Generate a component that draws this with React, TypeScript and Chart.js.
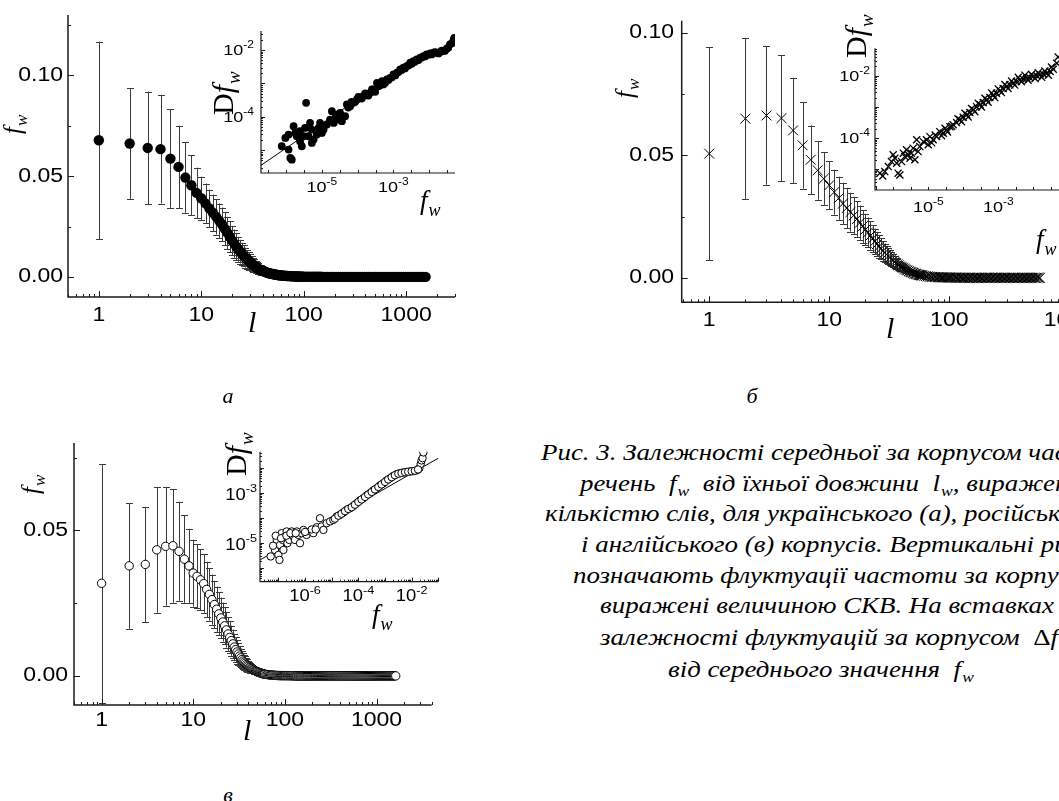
import { useEffect, useRef } from 'react';
import { Chart, registerables } from 'chart.js';

Chart.register(...registerables);

const SANS = '"Liberation Sans", Arial, sans-serif';
const SERIF = '"Liberation Serif", "Times New Roman", serif';

// ---------------- main panels: sentence length l vs mean frequency f_w (± SD) ----------------
const lengthsHead = [1, 2, 3, 4, 5, 6, 7, 8, 9, 10, 11, 12, 13, 14, 15, 16, 17, 18, 19, 20,
  21, 22, 23, 24, 25, 26, 27, 28, 29, 30, 31, 32, 33, 34, 35, 36, 37, 38, 39, 40,
  41, 42, 43, 44, 45, 46, 47, 48, 49, 50, 51, 52, 53, 54, 55, 56, 57, 58, 59, 60,
  62, 64, 66, 68, 70, 72, 74, 76, 78, 80, 82, 84, 86, 88, 90, 92, 94, 96, 98, 100];

// (a) Ukrainian
const meanA = [0.0678, 0.0662, 0.064, 0.0634, 0.0587, 0.0546, 0.0493, 0.0455, 0.0417, 0.039,
  0.0365, 0.034, 0.0318, 0.0298, 0.0278, 0.026, 0.0238, 0.0218, 0.0198, 0.018,
  0.0165, 0.015, 0.0137, 0.0125, 0.0114, 0.0104, 0.0095, 0.0086, 0.0079, 0.0072,
  0.0066, 0.006, 0.0055, 0.005, 0.0045, 0.0041, 0.0037, 0.0034, 0.0031, 0.0029,
  0.0027, 0.0025, 0.0023, 0.0021, 0.0019, 0.0018, 0.0017, 0.0016, 0.0015, 0.0014,
  0.0013, 0.0012, 0.0011, 0.00105, 0.001, 0.00094, 0.00088, 0.00082, 0.00076, 0.0007,
  0.00064, 0.00058, 0.00052, 0.00046, 0.0004, 0.00037, 0.00034, 0.00031, 0.00028, 0.00025,
  0.00023, 0.00021, 0.00019, 0.00017, 0.00015, 0.00014, 0.00013, 0.00012, 0.00011, 0.0001];
const errA = [0.049, 0.0275, 0.028, 0.027, 0.0244, 0.0204, 0.0175, 0.015, 0.0125, 0.0107,
  0.0098, 0.0093, 0.009, 0.0088, 0.0086, 0.0084, 0.0082, 0.008, 0.0077, 0.0073,
  0.007, 0.0066, 0.0062, 0.0059, 0.0055, 0.0052, 0.0049, 0.0046, 0.0043, 0.004,
  0.0037, 0.0035, 0.0032, 0.003, 0.0028, 0.0026, 0.0024, 0.0023, 0.0021, 0.002,
  0.0019, 0.0018, 0.0016, 0.0015, 0.0014, 0.0013, 0.0012, 0.0011, 0.00105, 0.001,
  0.00096, 0.00092, 0.00088, 0.00084, 0.0008, 0.00076, 0.00072, 0.00068, 0.00064, 0.0006,
  0.00055, 0.0005, 0.00045, 0.0004, 0.0003, 0.0003, 0.00025, 0.00025, 0.0002, 0.0002,
  0.0002, 0.00015, 0.00015, 0.00015, 0.0001, 0.0001, 0.0001, 0.0001, 0.0001, 0.0001];
const tailLenA = [105, 110, 116, 122, 128, 134, 141, 148, 155, 163, 171, 180, 189, 198, 208, 218, 229, 241,
  253, 265, 279, 293, 307, 322, 338, 355, 373, 392, 411, 432, 453, 476, 500, 525, 551, 579, 608, 638,
  670, 704, 739, 776, 815, 856, 898, 943, 990, 1040, 1090, 1145, 1200, 1260, 1325, 1390, 1460, 1550];
const tailMeanA = [0.00009, 0.00008, 0.00007, 0.00006, 0.00005, 0.00004, 0.00003, 0.00002, 0.00001, 0, 0, 0, 0, 0,
  0, 0, 0, 0, 0, 0, 0, 0, 0, 0, 0, 0, 0, 0, 0, 0, 0, 0, 0, 0, 0, 0, 0, 0, 0, 0, 0, 0, 0, 0, 0, 0, 0, 0,
  0, 0, 0, 0, 0, 0, 0, 0];

// (б) Russian
const meanB = [0.0507, 0.065, 0.0663, 0.0652, 0.0602, 0.0541, 0.0482, 0.0439, 0.0405, 0.0378,
  0.035, 0.0325, 0.0303, 0.0285, 0.0268, 0.0255, 0.024, 0.0225, 0.021, 0.0197,
  0.0185, 0.0172, 0.016, 0.0149, 0.0138, 0.0128, 0.0119, 0.011, 0.0102, 0.0095,
  0.0088, 0.0082, 0.0076, 0.007, 0.0065, 0.006, 0.0055, 0.0051, 0.0047, 0.0044,
  0.0041, 0.0038, 0.0035, 0.0032, 0.003, 0.0027, 0.0025, 0.0023, 0.0022, 0.002,
  0.0018, 0.0017, 0.0016, 0.0014, 0.0013, 0.0012, 0.0011, 0.00105, 0.001, 0.0009,
  0.0008, 0.0007, 0.0006, 0.0005, 0.0004, 0.00037, 0.00034, 0.0003, 0.00027, 0.00024,
  0.00022, 0.0002, 0.00018, 0.00016, 0.00015, 0.00014, 0.00013, 0.00012, 0.00011, 0.0001];
const errB = [0.0435, 0.033, 0.0283, 0.0257, 0.0215, 0.0177, 0.014, 0.012, 0.0107, 0.0097,
  0.0092, 0.0088, 0.0085, 0.0082, 0.0079, 0.0076, 0.0073, 0.007, 0.0067, 0.0064,
  0.0061, 0.0058, 0.0055, 0.0052, 0.0049, 0.0046, 0.0043, 0.004, 0.0037, 0.0035,
  0.0032, 0.003, 0.0028, 0.0026, 0.0024, 0.0022, 0.0021, 0.0019, 0.0018, 0.0016,
  0.0015, 0.0014, 0.0013, 0.0012, 0.0011, 0.001, 0.00095, 0.0009, 0.00085, 0.0008,
  0.00075, 0.0007, 0.00065, 0.0006, 0.0006, 0.00055, 0.0005, 0.0005, 0.00045, 0.0004,
  0.0004, 0.00035, 0.0003, 0.0003, 0.00025, 0.00025, 0.0002, 0.0002, 0.0002, 0.00015,
  0.00015, 0.00015, 0.0001, 0.0001, 0.0001, 0.0001, 0.0001, 0.0001, 0.0001, 0.0001];
const tailLenB = [102, 105, 107, 110, 113, 115, 118, 121, 124, 127, 130, 133, 136, 140, 143, 147, 150, 154,
  158, 162, 166, 170, 174, 178, 183, 187, 192, 197, 202, 207, 212, 217, 223, 228, 234, 240, 246, 252,
  258, 265, 271, 278, 285, 292, 299, 307, 314, 322, 330, 339, 347, 356, 365, 374, 383, 393, 403, 413,
  423, 434, 445, 456, 467, 479, 491, 503, 516, 529, 542, 556, 570];
const tailMeanB = [0.00009, 0.00009, 0.00008, 0.00008, 0.00007, 0.00007, 0.00006, 0.00005, 0.00004, 0.00003,
  0.00002, 0.00001, 0, 0, 0, 0, 0, 0, 0, 0, 0, 0, 0, 0, 0, 0, 0, 0, 0, 0, 0, 0, 0, 0, 0, 0, 0, 0, 0, 0,
  0, 0, 0, 0, 0, 0, 0, 0, 0, 0, 0, 0, 0, 0, 0, 0, 0, 0, 0, 0, 0, 0, 0, 0, 0, 0, 0, 0, 0, 0, 0];

// (в) English
const meanC = [0.0318, 0.0378, 0.0383, 0.0433, 0.0445, 0.0447, 0.0428, 0.0401, 0.0378, 0.0353,
  0.0342, 0.033, 0.0317, 0.0297, 0.028, 0.0262, 0.0245, 0.0229, 0.0213, 0.0199,
  0.0185, 0.0172, 0.0158, 0.0144, 0.0132, 0.0121, 0.011, 0.0099, 0.009, 0.0082,
  0.0075, 0.0068, 0.0062, 0.0056, 0.0051, 0.0047, 0.0043, 0.0039, 0.0036, 0.0033,
  0.003, 0.0028, 0.0026, 0.0024, 0.0022, 0.002, 0.0018, 0.0017, 0.0015, 0.0014,
  0.0013, 0.0012, 0.0011, 0.001, 0.0009, 0.00085, 0.0008, 0.0007, 0.00065, 0.0006,
  0.00053, 0.00046, 0.0004, 0.00035, 0.0003, 0.00027, 0.00024, 0.00021, 0.00018, 0.00015,
  0.00014, 0.00013, 0.00012, 0.00011, 0.0001, 0.0001, 0.0001, 0.0001, 0.0001, 0.0001];
const errC = [0.041, 0.0216, 0.0198, 0.0216, 0.0204, 0.0195, 0.017, 0.015, 0.0127, 0.0115,
  0.011, 0.0105, 0.01, 0.0095, 0.009, 0.0086, 0.0082, 0.0078, 0.0074, 0.007,
  0.0067, 0.0064, 0.0061, 0.0058, 0.0055, 0.0052, 0.0049, 0.0046, 0.0043, 0.004,
  0.0037, 0.0035, 0.0032, 0.003, 0.0028, 0.0026, 0.0024, 0.0022, 0.0021, 0.0019,
  0.0018, 0.0017, 0.0015, 0.0014, 0.0013, 0.0012, 0.0011, 0.001, 0.00095, 0.0009,
  0.00085, 0.0008, 0.00075, 0.0007, 0.00065, 0.0006, 0.00055, 0.0005, 0.00045, 0.0004,
  0.00035, 0.0003, 0.0003, 0.00025, 0.0002, 0.0002, 0.0002, 0.00015, 0.00015, 0.00015,
  0.0001, 0.0001, 0.0001, 0.0001, 0.0001, 0.0001, 0.0001, 0.0001, 0.0001, 0.0001];
const tailLenC = [102, 105, 107, 110, 113, 115, 118, 121, 124, 127, 130, 133, 136, 140, 143, 147, 150, 154,
  158, 162, 166, 170, 174, 178, 183, 187, 192, 197, 202, 207, 212, 217, 223, 228, 234, 240, 246, 252,
  258, 265, 271, 278, 285, 292, 299, 307, 314, 322, 330, 339, 347, 356, 365, 374, 383, 393, 403, 413,
  423, 434, 445, 456, 467, 479, 491, 503, 516, 529, 542, 556, 570, 584, 599, 614, 629, 645, 661, 678,
  695, 712, 730, 748, 767, 786, 806, 826, 847, 868, 890, 912, 935, 958, 982, 1007, 1032, 1058, 1084,
  1111, 1139, 1168, 1197, 1227, 1258, 1289, 1321, 1354, 1388, 1423, 1459, 1495, 1532, 1570, 1620];
const tailMeanC = [0.00009, 0.00009, 0.00008, 0.00008, 0.00007, 0.00007, 0.00006, 0.00005, 0.00004, 0.00003,
  0.00002, 0.00001, 0, 0, 0, 0, 0, 0, 0, 0, 0, 0, 0, 0, 0, 0, 0, 0, 0, 0, 0, 0, 0, 0, 0, 0, 0, 0,
  0, 0, 0, 0, 0, 0, 0, 0, 0, 0, 0, 0, 0, 0, 0, 0, 0, 0, 0, 0, 0, 0, 0, 0, 0, 0, 0, 0, 0, 0, 0, 0,
  0, 0, 0, 0, 0, 0, 0, 0, 0, 0, 0, 0, 0, 0, 0, 0, 0, 0, 0, 0, 0, 0, 0, 0, 0, 0, 0, 0, 0, 0, 0, 0,
  0, 0, 0, 0, 0, 0, 0, 0, 0, 0, 0, 0, 0];

// ---------------- insets: log10 of f_w and of its fluctuation Δf_w ----------------
const insetA_logF = [-6.12, -6.02, -5.93, -5.88, -5.84, -5.93, -5.79, -5.74, -5.70, -5.61,
  -5.61, -5.56, -5.51, -5.47, -5.44, -5.37, -5.33, -5.28, -5.28, -5.23,
  -5.14, -5.09, -5.05, -5.00, -4.95, -4.86, -4.77, -4.72, -4.67, -4.63,
  -4.58, -4.53, -4.49, -4.44, -4.35,
  -4.30, -4.21, -4.12, -4.02, -3.93, -3.84, -3.74, -3.65, -3.56, -3.46,
  -3.42, -3.32, -3.28, -3.18, -3.09, -3.00, -2.90, -2.81, -2.72, -2.63,
  -2.53, -2.44, -2.35, -2.25, -2.16, -2.07, -1.97, -1.88, -1.79, -1.69,
  -1.60, -1.51, -1.42, -1.32,
  -4.26, -4.17, -4.07, -3.98, -3.89, -3.79, -3.70, -3.60, -3.51, -3.37, -3.23, -3.14, -3.05, -2.95,
  -2.86, -2.77, -2.68, -2.58, -2.49, -2.40, -2.30, -2.21, -2.12, -2.02, -1.93, -1.84, -1.74, -1.65,
  -1.56, -1.47, -1.37, -1.30];
const insetA_logDF = [-4.88, -4.63, -4.98, -5.23, -5.28, -4.53, -4.28, -4.48, -4.58, -4.43,
  -4.73, -4.88, -4.58, -4.33, -3.58, -4.58, -4.18, -4.38, -4.78, -4.68,
  -4.53, -4.33, -4.18, -4.48, -4.38, -4.23, -4.08, -3.83, -4.18, -4.03,
  -3.93, -4.08, -3.88, -4.13, -3.98,
  -3.63, -3.68, -3.58, -3.48, -3.43, -3.38, -3.33, -3.28, -3.18, -2.98,
  -3.08, -2.93, -3.03, -2.88, -2.83, -2.73, -2.68, -2.58, -2.53, -2.48,
  -2.38, -2.33, -2.28, -2.23, -2.18, -2.13, -2.10, -2.08, -2.08, -2.06,
  -2.03, -1.96, -1.83, -1.70,
  -3.72, -3.55, -3.55, -3.40, -3.45, -3.30, -3.36, -3.18, -3.25, -3.05, -2.98, -2.90, -2.82, -2.76,
  -2.66, -2.60, -2.55, -2.46, -2.41, -2.35, -2.30, -2.22, -2.19, -2.14, -2.13, -2.06, -2.10, -2.02,
  -2.02, -1.93, -1.80, -1.64];
const insetA_fitLogF = [-6.7, -2.2];
const insetA_fitLogDF = [-5.45, -2.15];

const insetB_logF = [-6.38, -6.30, -6.24, -6.14, -6.05, -6.00, -5.95, -5.90, -5.86, -5.81,
  -5.76, -5.71, -5.67, -5.62, -5.57, -5.52, -5.48, -5.43, -5.38, -5.33,
  -5.29, -5.24, -5.14, -5.05, -5.00, -4.95, -4.86, -4.76, -4.67, -4.57,
  -4.52, -4.48, -4.38, -4.29,
  -4.19, -4.10, -4.00, -3.90, -3.81, -3.71, -3.62, -3.52, -3.43, -3.33,
  -3.24, -3.14, -3.05, -2.95, -2.86, -2.76, -2.67, -2.57, -2.48, -2.38,
  -2.29, -2.19, -2.10, -2.00, -1.90, -1.81, -1.71, -1.62, -1.52, -1.43,
  -1.33, -1.29,
  -4.15, -3.95, -3.76, -3.57, -3.38, -3.19, -3.00, -2.81, -2.62, -2.43, -2.24, -2.05, -1.86, -1.67, -1.48,
  -4.05, -3.86, -3.67, -3.48, -3.29, -3.10, -2.91, -2.72, -2.53, -2.34, -2.15, -1.95, -1.76, -1.57,
  -4.90, -4.80, -4.62, -4.45, -4.33];
const insetB_logDF = [-5.12, -5.21, -5.07, -4.91, -4.75, -4.53, -4.64, -4.80, -5.12, -5.18,
  -4.75, -4.48, -4.59, -4.37, -4.53, -4.64, -4.48, -4.32, -4.69, -4.05,
  -4.43, -4.27, -4.11, -4.05, -4.21, -3.95, -4.05, -3.95, -3.79, -3.84,
  -3.68, -3.73, -3.63, -3.57,
  -3.50, -3.41, -3.33, -3.25, -3.18, -3.09, -2.99, -2.93, -2.86, -2.77,
  -2.70, -2.62, -2.56, -2.48, -2.41, -2.34, -2.29, -2.24, -2.18, -2.13,
  -2.10, -2.08, -2.06, -2.02, -2.00, -1.97, -1.95, -1.92, -1.86, -1.79,
  -1.60, -1.40,
  -3.38, -3.20, -3.05, -2.88, -2.72, -2.55, -2.42, -2.28, -2.17, -2.05, -1.98, -1.95, -1.90, -1.85, -1.72,
  -3.47, -3.32, -3.15, -3.00, -2.85, -2.70, -2.54, -2.41, -2.30, -2.19, -2.14, -2.09, -2.05, -1.98,
  -4.15, -3.90, -3.92, -3.80, -3.62];

const insetC_logF = [-7.29, -7.13, -7.06, -7.00, -6.96, -6.94, -6.88, -6.84, -6.81, -6.75,
  -6.69, -6.66, -6.59, -6.50, -6.44, -6.38, -6.31, -6.25, -6.19, -6.13,
  -6.06, -5.94, -5.81, -5.69, -5.56, -5.44, -5.38, -5.31, -5.19, -5.06,
  -4.94, -4.81, -4.69, -4.56, -4.44, -4.31, -4.19, -4.06, -3.94, -3.81,
  -3.69, -3.56, -3.44, -3.31, -3.19, -3.06, -2.94, -2.81, -2.69, -2.56,
  -2.44, -2.31, -2.19, -2.06, -1.94, -1.81, -1.71, -1.66, -1.63, -1.59, -1.56,
  -4.88, -4.75, -4.63, -4.50, -4.38, -4.25, -4.13, -4.00, -3.88, -3.75, -3.63, -3.50, -3.38,
  -3.25, -3.13, -3.00, -2.88, -2.75, -2.63, -2.50, -2.38, -2.25, -2.13, -2.00, -1.88, -1.76,
  -7.20, -7.10, -6.90, -6.70, -6.55, -6.35, -6.00, -5.75, -5.60];
const insetC_logDF = [-5.53, -5.27, -4.87, -5.47, -5.67, -5.07, -4.60, -4.87, -5.27, -4.73,
  -4.53, -5.00, -4.87, -4.53, -4.73, -4.87, -4.53, -4.67, -5.00, -4.60,
  -4.47, -4.67, -4.53, -4.60, -4.36, -4.00, -4.33, -4.47, -4.20, -4.13,
  -4.07, -3.93, -3.87, -3.77, -3.67, -3.60, -3.51, -3.40, -3.29, -3.20,
  -3.09, -3.00, -2.89, -2.80, -2.69, -2.60, -2.49, -2.40, -2.31, -2.24,
  -2.20, -2.17, -2.15, -2.13, -2.12, -2.09, -2.00, -1.83, -1.69, -1.60, -1.37,
  -4.02, -3.90, -3.82, -3.72, -3.63, -3.56, -3.46, -3.35, -3.25, -3.15, -3.05, -2.95, -2.85,
  -2.75, -2.65, -2.55, -2.45, -2.36, -2.28, -2.22, -2.19, -2.16, -2.14, -2.12, -2.10, -2.05,
  -5.10, -4.70, -4.80, -4.70, -4.60, -4.60, -4.55, -4.45, -4.45];
const insetC_fitLogF = [-7.69, -1.0];
const insetC_fitLogDF = [-5.67, -1.6];

// ---------------- helpers ----------------
type Tick = { v: number; len: number };
type Lab = { v: number; t: string; sup?: string };
type Seg = { t: string; font: string; dy?: number; dx?: number };
type Title = { x: number; y: number; rot?: boolean; segs: Seg[] };

const pow10 = (e: number) => Math.pow(10, e);

function logTicks(lo: number, hi: number, majorLen: number, minorLen: number, mode: string): Tick[] {
  const out: Tick[] = [];
  for (let e = Math.floor(lo) - 1; e <= Math.ceil(hi); e++) {
    const base = pow10(e);
    out.push({ v: base, len: majorLen });
    if (mode === 'full') for (let k = 2; k <= 9; k++) out.push({ v: k * base, len: minorLen });
    else out.push({ v: base * Math.sqrt(10), len: minorLen });
  }
  const min = pow10(lo), max = pow10(hi);
  return out.filter((t) => t.v >= min * 0.999 && t.v <= max * 1.001);
}

function mainPoints(head: number[], mean: number[], tailL: number[], tailM: number[]) {
  return head.map((l, i) => ({ x: l, y: mean[i] })).concat(tailL.map((l, i) => ({ x: l, y: tailM[i] })));
}
function logPoints(lf: number[], ld: number[]) {
  return lf.map((v, i) => ({ x: pow10(v), y: pow10(ld[i]) }));
}

const fMain = (x: number, y: number, rot: boolean): Title => ({
  x, y, rot,
  segs: [
    { t: 'f', font: `italic 25px ${SERIF}` },
    { t: 'w', font: `italic 17px ${SERIF}`, dy: 6, dx: 1 },
  ],
});
const lMain = (x: number, y: number): Title => ({ x, y, segs: [{ t: 'l', font: `italic 30px ${SERIF}` }] });
const dfInset = (x: number, y: number): Title => ({
  x, y, rot: true,
  segs: [
    { t: 'D', font: `30px ${SERIF}` },
    { t: 'f', font: `italic 30px ${SERIF}` },
    { t: 'w', font: `italic 19px ${SERIF}`, dy: 7, dx: 1 },
  ],
});
const fInset = (x: number, y: number): Title => ({
  x, y,
  segs: [
    { t: 'f', font: `italic 27px ${SERIF}` },
    { t: 'w', font: `italic 18px ${SERIF}`, dy: 7, dx: 1 },
  ],
});

type Spec = any;

const mainY = (maj: number[], min: number[]): Tick[] =>
  maj.map((v) => ({ v, len: 6 })).concat(min.map((v) => ({ v, len: 3 })));
const fmt = (v: number) => v.toFixed(2);

const SPECS: Spec[] = [
  {
    canvas: { x: 0, y: 0, w: 470, h: 345 },
    area: { l: 68, t: 15, r: 455, b: 297 },
    xMin: 0.5, xMax: 3000, yMin: -0.01, yMax: 0.13, yLog: false,
    datasets: [{ data: mainPoints(lengthsHead, meanA, tailLenA, tailMeanA), pointStyle: 'circle', pointRadius: 5.2,
      pointBackgroundColor: '#000', pointBorderColor: '#000', pointBorderWidth: 0, showLine: false }],
    errors: errA,
    xTicks: logTicks(Math.log10(0.5), Math.log10(3000), 6, 3, 'full'),
    yTicks: mainY([0, 0.05, 0.1], [0.025, 0.075, 0.125]),
    xLabels: [1, 10, 100, 1000].map((v) => ({ v, t: String(v) })),
    yLabels: [0, 0.05, 0.1].map((v) => ({ v, t: fmt(v) })),
    xLabelY: 315, yLabelX: 63, yLabelDy: 0,
    labelFont: `20px ${SANS}`, supFont: `13px ${SANS}`, supRise: 6, sx: 1.15, axisW: 1.5,
    titles: [fMain(21, 134, true), lMain(248, 332)],
  },
  {
    canvas: { x: 600, y: 0, w: 540, h: 350 },
    area: { l: 681.7, t: 20.7, r: 1126.6, b: 302.3 },
    xMin: 0.59, xMax: 3000, yMin: -0.01, yMax: 0.105, yLog: false,
    datasets: [{ data: mainPoints(lengthsHead, meanB, tailLenB, tailMeanB), pointStyle: 'crossRot', pointRadius: 7,
      pointBackgroundColor: '#000', pointBorderColor: '#000', pointBorderWidth: 1, showLine: false }],
    errors: errB,
    xTicks: logTicks(Math.log10(0.59), Math.log10(3000), 6, 3, 'full'),
    yTicks: mainY([0, 0.05, 0.1], [0.025, 0.075]),
    xLabels: [1, 10, 100, 1000].map((v) => ({ v, t: String(v) })),
    yLabels: [0, 0.05, 0.1].map((v) => ({ v, t: fmt(v) })),
    xLabelY: 320, yLabelX: 674, yLabelDy: 0,
    labelFont: `20px ${SANS}`, supFont: `13px ${SANS}`, supRise: 6, sx: 1.15, axisW: 1.5,
    titles: [fMain(633, 98, true), lMain(886, 338)],
  },
  {
    canvas: { x: 0, y: 430, w: 450, h: 330 },
    area: { l: 74, t: 443, r: 431.7, b: 705 },
    xMin: 0.5, xMax: 4000, yMin: -0.01, yMax: 0.08, yLog: false,
    datasets: [{ data: mainPoints(lengthsHead, meanC, tailLenC, tailMeanC), pointStyle: 'circle', pointRadius: 4.2,
      pointBackgroundColor: '#fff', pointBorderColor: '#000', pointBorderWidth: 1, showLine: false }],
    errors: errC,
    xTicks: logTicks(Math.log10(0.5), Math.log10(4000), 6, 3, 'full'),
    yTicks: mainY([0, 0.05], [0.025, 0.075]),
    xLabels: [1, 10, 100, 1000].map((v) => ({ v, t: String(v) })),
    yLabels: [0, 0.05].map((v) => ({ v, t: fmt(v) })),
    xLabelY: 720, yLabelX: 68, yLabelDy: 0,
    labelFont: `20px ${SANS}`, supFont: `13px ${SANS}`, supRise: 6, sx: 1.15, axisW: 1.5,
    titles: [fMain(39, 494, true), lMain(243, 740)],
  },
  {
    canvas: { x: 195, y: 0, w: 275, h: 230 },
    area: { l: 261, t: 31, r: 455, b: 173 },
    xMin: pow10(-6.7), xMax: pow10(-1.28), yMin: pow10(-5.68), yMax: pow10(-1.43), yLog: true,
    datasets: [
      { data: logPoints(insetA_logF, insetA_logDF), pointStyle: 'circle', pointRadius: 3.9,
        pointBackgroundColor: '#000', pointBorderColor: '#000', pointBorderWidth: 0, showLine: false },
      { type: 'line', data: logPoints(insetA_fitLogF, insetA_fitLogDF), borderColor: '#000', borderWidth: 1, pointRadius: 0 },
    ],
    xTicks: logTicks(-6.7, -1.28, 3, 3, 'half'),
    yTicks: logTicks(-5.68, -1.43, 4, 2, 'full'),
    xLabels: [{ v: pow10(-5), t: '10', sup: '-5' }, { v: pow10(-3), t: '10', sup: '-3' }],
    yLabels: [{ v: pow10(-2), t: '10', sup: '-2' }, { v: pow10(-4), t: '10', sup: '-4' }],
    xLabelY: 188, yLabelX: 254, yLabelDy: 1,
    labelFont: `15px ${SANS}`, supFont: `10px ${SANS}`, supRise: 6, sx: 1.2, axisW: 1.2,
    titles: [dfInset(233, 115), fInset(420, 209)],
  },
  {
    canvas: { x: 820, y: 0, w: 260, h: 270 },
    area: { l: 875, t: 48.3, r: 1064.8, b: 190 },
    xMin: pow10(-6.52), xMax: pow10(-1.1), yMin: pow10(-5.66), yMax: pow10(-1.12), yLog: true,
    datasets: [
      { data: logPoints(insetB_logF, insetB_logDF), pointStyle: 'crossRot', pointRadius: 5,
        pointBackgroundColor: '#000', pointBorderColor: '#000', pointBorderWidth: 1.3, showLine: false },
    ],
    xTicks: logTicks(-6.52, -1.1, 3, 3, 'half'),
    yTicks: logTicks(-5.66, -1.12, 4, 2, 'full'),
    xLabels: [{ v: pow10(-5), t: '10', sup: '-5' }, { v: pow10(-3), t: '10', sup: '-3' }],
    yLabels: [{ v: pow10(-2), t: '10', sup: '-2' }, { v: pow10(-4), t: '10', sup: '-4' }],
    xLabelY: 208, yLabelX: 870, yLabelDy: 1,
    labelFont: `15px ${SANS}`, supFont: `10px ${SANS}`, supRise: 6, sx: 1.2, axisW: 1.2,
    titles: [dfInset(866, 58), fInset(1036, 248)],
  },
  {
    canvas: { x: 200, y: 420, w: 250, h: 216 },
    area: { l: 260, t: 451.7, r: 438.3, b: 581.7 },
    xMin: pow10(-7.69), xMax: pow10(-1.0), yMin: pow10(-6.54), yMax: pow10(-1.34), yLog: true,
    datasets: [
      { data: logPoints(insetC_logF, insetC_logDF), pointStyle: 'circle', pointRadius: 3.7,
        pointBackgroundColor: '#fff', pointBorderColor: '#000', pointBorderWidth: 1, showLine: false },
      { type: 'line', data: logPoints(insetC_fitLogF, insetC_fitLogDF), borderColor: '#000', borderWidth: 1, pointRadius: 0 },
    ],
    xTicks: logTicks(-7.69, -1.0, 4, 2, 'full'),
    yTicks: logTicks(-6.54, -1.34, 4, 2, 'full'),
    xLabels: [{ v: pow10(-6), t: '10', sup: '-6' }, { v: pow10(-4), t: '10', sup: '-4' }, { v: pow10(-2), t: '10', sup: '-2' }],
    yLabels: [{ v: pow10(-3), t: '10', sup: '-3' }, { v: pow10(-5), t: '10', sup: '-5' }],
    xLabelY: 597, yLabelX: 257, yLabelDy: 2,
    labelFont: `16px ${SANS}`, supFont: `11px ${SANS}`, supRise: 6, sx: 1.15, axisW: 1.2,
    titles: [dfInset(246, 476), fInset(372, 623)],
  },
];

function txt(ctx: CanvasRenderingContext2D, s: string, x: number, y: number, font: string, sx: number) {
  ctx.save();
  ctx.translate(x, y);
  ctx.scale(sx, 1);
  ctx.font = font;
  ctx.textAlign = 'left';
  ctx.textBaseline = 'middle';
  ctx.fillText(s, 0, 0);
  ctx.restore();
}

function drawLab(ctx: CanvasRenderingContext2D, l: Lab, x: number, y: number, align: string, s: Spec) {
  ctx.font = s.labelFont;
  const w1 = ctx.measureText(l.t).width * s.sx;
  let w2 = 0;
  if (l.sup) {
    ctx.font = s.supFont;
    w2 = ctx.measureText(l.sup).width * s.sx;
  }
  const total = w1 + w2;
  const start = align === 'center' ? x - total / 2 : x - total;
  txt(ctx, l.t, start, y, s.labelFont, s.sx);
  if (l.sup) txt(ctx, l.sup, start + w1, y - s.supRise, s.supFont, s.sx);
}

function drawTitle(ctx: CanvasRenderingContext2D, t: Title, ox: number, oy: number) {
  ctx.save();
  ctx.translate(t.x - ox, t.y - oy);
  if (t.rot) ctx.rotate(-Math.PI / 2);
  ctx.textAlign = 'left';
  ctx.textBaseline = 'alphabetic';
  let cx = 0;
  for (const sg of t.segs) {
    ctx.font = sg.font;
    cx += sg.dx || 0;
    ctx.fillText(sg.t, cx, sg.dy || 0);
    cx += ctx.measureText(sg.t).width;
  }
  ctx.restore();
}

function drawErr(chart: any, s: Spec) {
  const { ctx, chartArea: ca } = chart;
  const xs = chart.scales.x, ys = chart.scales.y;
  const pts = s.datasets[0].data;
  ctx.save();
  ctx.beginPath();
  ctx.rect(ca.left, ca.top, ca.right - ca.left, ca.bottom - ca.top);
  ctx.clip();
  ctx.strokeStyle = '#3a3a3a';
  ctx.lineWidth = 1;
  s.errors.forEach((e: number, i: number) => {
    const p = pts[i];
    if (!e || !p) return;
    const px = Math.round(xs.getPixelForValue(p.x)) + 0.5;
    const y1 = ys.getPixelForValue(p.y + e);
    const y2 = ys.getPixelForValue(p.y - e);
    if (y2 - y1 < 1.5) return;
    ctx.beginPath();
    ctx.moveTo(px, y1);
    ctx.lineTo(px, y2);
    ctx.moveTo(px - 3.5, Math.round(y1) + 0.5);
    ctx.lineTo(px + 3.5, Math.round(y1) + 0.5);
    ctx.moveTo(px - 3.5, Math.round(y2) + 0.5);
    ctx.lineTo(px + 3.5, Math.round(y2) + 0.5);
    ctx.stroke();
  });
  ctx.restore();
}

function drawFrame(chart: any, s: Spec) {
  const { ctx, chartArea: ca } = chart;
  const xs = chart.scales.x, ys = chart.scales.y;
  const ox = s.canvas.x, oy = s.canvas.y;
  ctx.save();
  ctx.strokeStyle = '#1a1a1a';
  ctx.lineWidth = s.axisW;
  ctx.beginPath();
  ctx.moveTo(ca.left, ca.top);
  ctx.lineTo(ca.left, ca.bottom);
  ctx.lineTo(ca.right, ca.bottom);
  ctx.stroke();
  ctx.lineWidth = 1;
  ctx.beginPath();
  for (const t of s.xTicks) {
    const px = Math.round(xs.getPixelForValue(t.v)) + 0.5;
    ctx.moveTo(px, ca.bottom);
    ctx.lineTo(px, ca.bottom - t.len);
  }
  for (const t of s.yTicks) {
    const py = Math.round(ys.getPixelForValue(t.v)) + 0.5;
    ctx.moveTo(ca.left, py);
    ctx.lineTo(ca.left + t.len, py);
  }
  ctx.stroke();
  ctx.fillStyle = '#000';
  for (const l of s.xLabels) drawLab(ctx, l, xs.getPixelForValue(l.v), s.xLabelY - oy, 'center', s);
  for (const l of s.yLabels) drawLab(ctx, l, s.yLabelX - ox, ys.getPixelForValue(l.v) + s.yLabelDy, 'right', s);
  for (const t of s.titles) drawTitle(ctx, t, ox, oy);
  ctx.restore();
}

function build(canvas: HTMLCanvasElement, s: Spec) {
  const padding = {
    left: s.area.l - s.canvas.x,
    top: s.area.t - s.canvas.y,
    right: s.canvas.x + s.canvas.w - s.area.r,
    bottom: s.canvas.y + s.canvas.h - s.area.b,
  };
  const errPlugin = { id: 'errbars', beforeDatasetsDraw(chart: any) { if (s.errors) drawErr(chart, s); } };
  const framePlugin = { id: 'frame', afterDraw(chart: any) { drawFrame(chart, s); } };
  return new Chart(canvas, {
    type: 'scatter',
    data: { datasets: s.datasets },
    options: {
      responsive: false,
      animation: false,
      devicePixelRatio: 1,
      events: [],
      layout: { padding },
      plugins: { legend: { display: false }, tooltip: { enabled: false } },
      scales: {
        x: { type: 'logarithmic', min: s.xMin, max: s.xMax, display: false },
        y: { type: s.yLog ? 'logarithmic' : 'linear', min: s.yMin, max: s.yMax, display: false },
      },
    } as any,
    plugins: [errPlugin, framePlugin],
  } as any);
}

const capBase: any = {
  position: 'absolute',
  whiteSpace: 'nowrap',
  fontFamily: SERIF,
  fontStyle: 'italic',
  fontSize: 23,
  lineHeight: '26px',
  color: '#000',
  transformOrigin: 'left top',
  transform: 'scaleX(1.17)',
};

const Sub = ({ b, s }: { b: string; s: string }) => (
  <span>
    {b}
    <span style={{ fontSize: 15, position: 'relative', top: 5, marginLeft: 1 }}>{s}</span>
  </span>
);

export default function App() {
  const refs = useRef<(HTMLCanvasElement | null)[]>([]);
  useEffect(() => {
    const charts = SPECS.map((s, i) => build(refs.current[i] as HTMLCanvasElement, s));
    return () => charts.forEach((c) => c.destroy());
  }, []);

  const letter = (t: string, x: number, y: number) => (
    <div style={{ position: 'absolute', left: x, top: y, transform: 'translate(-50%, -50%)', fontFamily: SERIF,
      fontStyle: 'italic', fontSize: 22, lineHeight: '24px' }}>{t}</div>
  );

  return (
    <div style={{ position: 'absolute', left: 0, top: 0, width: 1059, height: 801, overflow: 'hidden', background: '#fff' }}>
      {SPECS.map((s, i) => (
        <canvas
          key={i}
          ref={(el) => { refs.current[i] = el; }}
          width={s.canvas.w}
          height={s.canvas.h}
          style={{ position: 'absolute', left: s.canvas.x, top: s.canvas.y, width: s.canvas.w, height: s.canvas.h }}
        />
      ))}
      {letter('а', 228, 396)}
      {letter('б', 752, 396)}
      {letter('в', 228, 795)}
      <div style={{ ...capBase, left: 541, top: 440 }}>Рис. 3. Залежності середньої за корпусом частоти</div>
      <div style={{ ...capBase, left: 580, top: 471 }}>
        речень&nbsp; <Sub b="f" s="w" />&nbsp; від їхньої довжини&nbsp; <Sub b="l" s="w" />, вираженої
      </div>
      <div style={{ ...capBase, left: 545, top: 501 }}>кількістю слів, для українського (а), російського (б)</div>
      <div style={{ ...capBase, left: 581, top: 532 }}>і англійського (в) корпусів. Вертикальні риски</div>
      <div style={{ ...capBase, left: 573, top: 563 }}>позначають флуктуації частоти за корпусом,</div>
      <div style={{ ...capBase, left: 600, top: 593 }}>виражені величиною СКВ. На вставках –</div>
      <div style={{ ...capBase, left: 600, top: 625 }}>
        залежності флуктуацій за корпусом&nbsp; <span style={{ fontStyle: 'normal' }}>Δ</span><Sub b="f" s="w" />
      </div>
      <div style={{ ...capBase, left: 668, top: 657 }}>
        від середнього значення&nbsp; <Sub b="f" s="w" />
      </div>
    </div>
  );
}
